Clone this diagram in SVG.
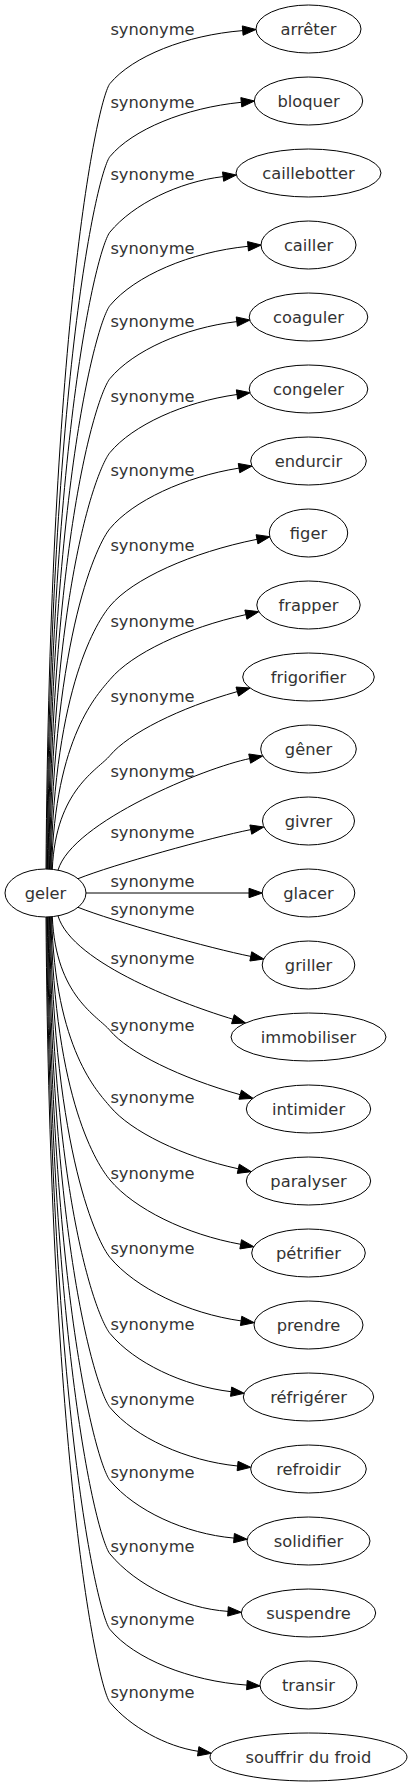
<svg xmlns="http://www.w3.org/2000/svg" width="412" height="1787" viewBox="0 0 412 1787">
<style>
.node ellipse{fill:#fff;stroke:#000;stroke-width:1}
.node text{font-family:"DejaVu Sans",Verdana,sans-serif;font-size:16.3px;fill:#333;text-anchor:middle}
.edges path{fill:none;stroke:#000;stroke-width:1}
.edges polygon{fill:#000;stroke:#000;stroke-width:1}
.edges text{font-family:"DejaVu Sans",Verdana,sans-serif;font-size:16.3px;fill:#333;text-anchor:middle}
</style>
<rect width="412" height="1787" fill="#fff"/>
<g id="edges" class="edges">
<path d="M46,869 C49.8,319.1 98,97.9 110,83.5 C132.7,56.3 185.7,35.2 242.7,30.6"/>
<polygon points="256,29.5 243.08,35.28 242.32,25.92"/>
<text x="152.5" y="35">synonyme</text>
<path d="M46.7,869 C50.5,370.2 98,170.9 110,156.5 C132.4,129.6 185,107.9 241.3,102.3"/>
<polygon points="254.5,101 241.77,106.98 240.83,97.62"/>
<text x="152.5" y="108.3">synonyme</text>
<path d="M47.4,869 C51.2,423.1 98,246.4 110,232 C133.2,204.1 178.5,181.9 223.1,176.6"/>
<polygon points="236.3,175 223.66,181.27 222.54,171.93"/>
<text x="152.5" y="180">synonyme</text>
<path d="M48.1,869 C51.8,474.5 98,319.9 110,305.5 C134.8,275.8 190,252.1 248,246.3"/>
<polygon points="261.2,245 248.47,250.98 247.53,241.62"/>
<text x="152.5" y="254.3">synonyme</text>
<path d="M48.8,869 C52.5,525.6 98,392.9 110,378.5 C133.2,350.7 183.9,327.9 236.8,321.6"/>
<polygon points="250,320 237.36,326.27 236.24,316.93"/>
<text x="152.5" y="327.3">synonyme</text>
<path d="M49.5,869 C53.1,577.4 98,466.9 110,452.5 C132.7,425.2 183.5,402 237,394.5"/>
<polygon points="250.2,392.7 237.65,399.15 236.35,389.85"/>
<text x="152.5" y="401.7">synonyme</text>
<path d="M50.2,869 C53.8,630.6 98,542.9 110,528.5 C132.9,501 184.5,476.8 239,468.1"/>
<polygon points="252.1,466 239.74,472.74 238.26,463.46"/>
<text x="152.5" y="475.7">synonyme</text>
<path d="M50.9,869 C54.4,684.9 98,620.4 110,606 C132.4,579.1 191.2,552.5 257,539.3"/>
<polygon points="270,536.7 257.92,543.91 256.08,534.69"/>
<text x="152.5" y="551">synonyme</text>
<path d="M51.6,869 C55.1,736.3 98,693.9 110,679.5 C131.4,653.8 185.8,627.8 245.9,614.6"/>
<polygon points="258.9,611.7 246.91,619.19 244.89,610.01"/>
<text x="152.5" y="626.7">synonyme</text>
<path d="M52.3,869 C55.8,789.5 98,769.9 110,755.5 C128.4,733.5 179.3,707.9 237.3,691.6"/>
<polygon points="250.1,688 238.57,696.13 236.03,687.07"/>
<text x="152.5" y="702.3">synonyme</text>
<path d="M58,870.2 C72,822 205.6,767.4 249.7,758.6"/>
<polygon points="262.7,756 250.62,763.21 248.78,753.99"/>
<text x="152.5" y="776.7">synonyme</text>
<path d="M78,878.7 C113,864.7 211.6,837.4 250.8,829.6"/>
<polygon points="263.8,827 251.72,834.21 249.88,824.99"/>
<text x="152.5" y="838.3">synonyme</text>
<path d="M86,893 L249,893"/>
<polygon points="262.3,893 249,897.7 249,888.3"/>
<text x="152.5" y="886.7">synonyme</text>
<path d="M78,907.3 C113,921.3 211.6,948.6 250.8,956.4"/>
<polygon points="263.8,959 249.88,961.01 251.72,951.79"/>
<text x="152.5" y="915">synonyme</text>
<path d="M58,915.8 C72,964 189.8,1006.3 232.9,1019.2"/>
<polygon points="245.6,1023 231.55,1023.7 234.25,1014.7"/>
<text x="152.5" y="964.3">synonyme</text>
<path d="M52.3,917 C55.8,996.5 98,1016.1 110,1030.5 C128.1,1052.2 180.2,1077.9 240.2,1094.7"/>
<polygon points="253,1098.3 238.93,1099.23 241.47,1090.17"/>
<text x="152.5" y="1031">synonyme</text>
<path d="M51.6,917 C55.1,1049.7 98,1092.1 110,1106.5 C130.9,1131.5 182.2,1156.5 238.3,1168.8"/>
<polygon points="251.3,1171.7 237.29,1173.39 239.31,1164.21"/>
<text x="152.5" y="1103.3">synonyme</text>
<path d="M50.9,917 C54.4,1101.1 98,1165.6 110,1180 C134,1208.8 186.3,1234.5 240.7,1244.3"/>
<polygon points="253.8,1246.7 239.87,1248.92 241.53,1239.68"/>
<text x="152.5" y="1179">synonyme</text>
<path d="M50.2,917 C53.8,1155.4 98,1243.1 110,1257.5 C135.5,1288.1 187.9,1313.4 241.1,1320.9"/>
<polygon points="254.3,1322.7 240.45,1325.55 241.75,1316.25"/>
<text x="152.5" y="1254.3">synonyme</text>
<path d="M49.5,917 C53.1,1208.6 98,1319.1 110,1333.5 C134.3,1362.6 182.7,1385.9 231.1,1391.7"/>
<polygon points="244.3,1393.3 230.54,1396.37 231.66,1387.03"/>
<text x="152.5" y="1330">synonyme</text>
<path d="M48.8,917 C52.5,1260.4 98,1393.1 110,1407.5 C135,1437.5 186,1460.8 237.6,1466"/>
<polygon points="250.8,1467.3 237.13,1470.68 238.07,1461.32"/>
<text x="152.5" y="1405">synonyme</text>
<path d="M48.1,917 C51.8,1311.5 98,1466.1 110,1480.5 C135.1,1510.6 184.7,1533.7 234,1538.1"/>
<polygon points="247.2,1539.3 233.58,1542.78 234.42,1533.42"/>
<text x="152.5" y="1478.3">synonyme</text>
<path d="M47.4,917 C51.2,1362.9 98,1539.6 110,1554 C136.1,1585.3 183.3,1608.3 228,1611.4"/>
<polygon points="241.3,1612.3 227.67,1616.09 228.33,1606.71"/>
<text x="152.5" y="1551.7">synonyme</text>
<path d="M46.7,917 C50.5,1415.8 98,1615.1 110,1629.5 C134.4,1658.8 189.2,1681 246.9,1685.1"/>
<polygon points="260.2,1686 246.57,1689.79 247.23,1680.41"/>
<text x="152.5" y="1625">synonyme</text>
<path d="M46,917 C49.8,1466.9 98,1688.1 110,1702.5 C130.3,1726.9 165.7,1746.4 198.2,1751.3"/>
<polygon points="211.4,1753.3 197.5,1755.95 198.9,1746.65"/>
<text x="152.5" y="1698.3">synonyme</text>
</g>
<g id="node-geler" class="node"><ellipse cx="45.5" cy="893" rx="40.5" ry="24"/><text x="45.5" y="898.5">geler</text></g>
<g id="node-arreter" class="node"><ellipse cx="308.5" cy="29" rx="52.5" ry="24"/><text x="308.5" y="34.5">arrêter</text></g>
<g id="node-bloquer" class="node"><ellipse cx="308.5" cy="101" rx="54.2" ry="24"/><text x="308.5" y="106.5">bloquer</text></g>
<g id="node-caillebotter" class="node"><ellipse cx="308.5" cy="173" rx="72.5" ry="24"/><text x="308.5" y="178.5">caillebotter</text></g>
<g id="node-cailler" class="node"><ellipse cx="308.5" cy="245" rx="47.5" ry="24"/><text x="308.5" y="250.5">cailler</text></g>
<g id="node-coaguler" class="node"><ellipse cx="308.5" cy="317" rx="59.3" ry="24"/><text x="308.5" y="322.5">coaguler</text></g>
<g id="node-congeler" class="node"><ellipse cx="308.5" cy="389" rx="59.3" ry="24"/><text x="308.5" y="394.5">congeler</text></g>
<g id="node-endurcir" class="node"><ellipse cx="308.5" cy="461" rx="57.8" ry="24"/><text x="308.5" y="466.5">endurcir</text></g>
<g id="node-figer" class="node"><ellipse cx="308.5" cy="533" rx="39.2" ry="24"/><text x="308.5" y="538.5">figer</text></g>
<g id="node-frapper" class="node"><ellipse cx="308.5" cy="605" rx="51.7" ry="24"/><text x="308.5" y="610.5">frapper</text></g>
<g id="node-frigorifier" class="node"><ellipse cx="308.5" cy="677" rx="65.8" ry="24"/><text x="308.5" y="682.5">frigorifier</text></g>
<g id="node-gener" class="node"><ellipse cx="308.5" cy="749" rx="47.8" ry="24"/><text x="308.5" y="754.5">gêner</text></g>
<g id="node-givrer" class="node"><ellipse cx="308.5" cy="821" rx="46" ry="24"/><text x="308.5" y="826.5">givrer</text></g>
<g id="node-glacer" class="node"><ellipse cx="308.5" cy="893" rx="46.3" ry="24"/><text x="308.5" y="898.5">glacer</text></g>
<g id="node-griller" class="node"><ellipse cx="308.5" cy="965" rx="46.3" ry="24"/><text x="308.5" y="970.5">griller</text></g>
<g id="node-immobiliser" class="node"><ellipse cx="308.5" cy="1037" rx="77.5" ry="24"/><text x="308.5" y="1042.5">immobiliser</text></g>
<g id="node-intimider" class="node"><ellipse cx="308.5" cy="1109" rx="62.2" ry="24"/><text x="308.5" y="1114.5">intimider</text></g>
<g id="node-paralyser" class="node"><ellipse cx="308.5" cy="1181" rx="62.2" ry="24"/><text x="308.5" y="1186.5">paralyser</text></g>
<g id="node-petrifier" class="node"><ellipse cx="308.5" cy="1253" rx="56.8" ry="24"/><text x="308.5" y="1258.5">pétrifier</text></g>
<g id="node-prendre" class="node"><ellipse cx="308.5" cy="1325" rx="54.5" ry="24"/><text x="308.5" y="1330.5">prendre</text></g>
<g id="node-refrigerer" class="node"><ellipse cx="308.5" cy="1397" rx="65.2" ry="24"/><text x="308.5" y="1402.5">réfrigérer</text></g>
<g id="node-refroidir" class="node"><ellipse cx="308.5" cy="1469" rx="57.8" ry="24"/><text x="308.5" y="1474.5">refroidir</text></g>
<g id="node-solidifier" class="node"><ellipse cx="308.5" cy="1541" rx="61.5" ry="24"/><text x="308.5" y="1546.5">solidifier</text></g>
<g id="node-suspendre" class="node"><ellipse cx="308.5" cy="1613" rx="67.2" ry="24"/><text x="308.5" y="1618.5">suspendre</text></g>
<g id="node-transir" class="node"><ellipse cx="308.5" cy="1685" rx="48.5" ry="24"/><text x="308.5" y="1690.5">transir</text></g>
<g id="node-souffrir-du-froid" class="node"><ellipse cx="308.5" cy="1757" rx="98.5" ry="24"/><text x="308.5" y="1762.5">souffrir du froid</text></g>
</svg>
